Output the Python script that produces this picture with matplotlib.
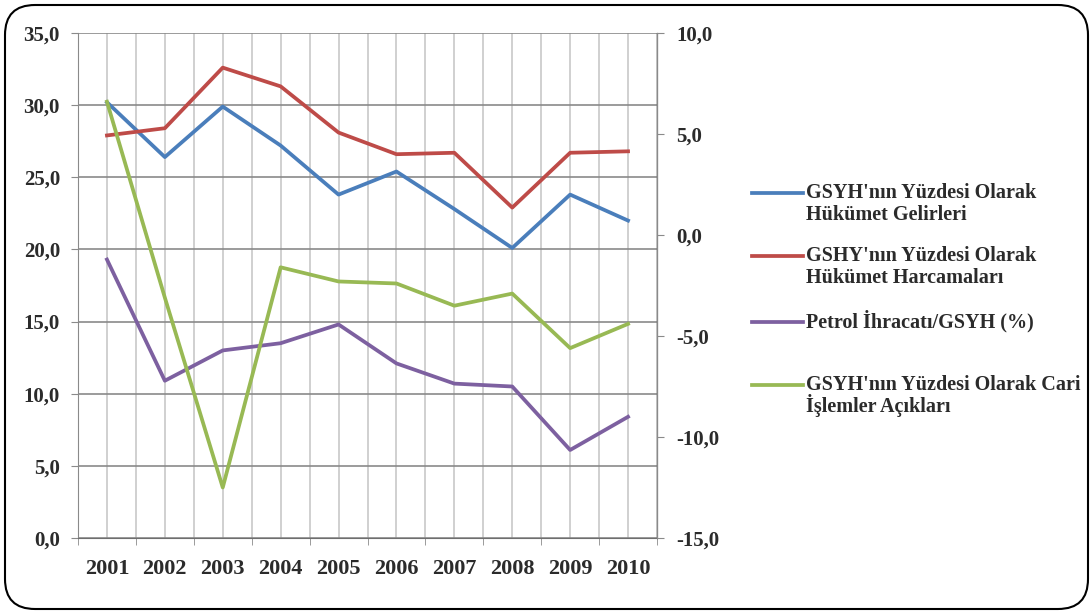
import matplotlib
matplotlib.use("Agg")
import matplotlib.pyplot as plt
from matplotlib.patches import FancyBboxPatch
from matplotlib.lines import Line2D
import matplotlib.ticker as ticker

years = ["2001", "2002", "2003", "2004", "2005", "2006", "2007", "2008", "2009", "2010"]
gelir = [30.2, 26.4, 29.9, 27.2, 23.8, 25.4, 22.8, 20.1, 23.8, 22.0]
harcama = [27.9, 28.4, 32.6, 31.3, 28.1, 26.6, 26.7, 22.9, 26.7, 26.8]
petrol = [19.3, 10.9, 13.0, 13.5, 14.8, 12.1, 10.7, 10.5, 6.1, 8.4]
cari = [6.6, -3.1, -12.5, -1.6, -2.3, -2.4, -3.5, -2.9, -5.6, -4.4]

labels = [
    ["GSYH'nın Yüzdesi Olarak", "Hükümet Gelirleri"],
    ["GSHY'nın Yüzdesi Olarak", "Hükümet Harcamaları"],
    ["Petrol İhracatı/GSYH (%)"],
    ["GSYH'nın Yüzdesi Olarak Cari", "İşlemler Açıkları"],
]
colors = ["#4a7ebb", "#be4b48", "#7d60a0", "#98b954"]

plt.rcParams['font.family'] = ['Liberation Serif', 'DejaVu Serif']

fig = plt.figure(figsize=(10.92, 6.13), dpi=100)

# frame with rounded corners, drawn in pixel coordinates
bg = fig.add_axes([0, 0, 1, 1], zorder=-1)
bg.set_xlim(0, 1092)
bg.set_ylim(613, 0)
bg.axis('off')
bg.add_patch(FancyBboxPatch((5, 5), 1083, 604, boxstyle="round,pad=0,rounding_size=30",
                            fc='white', ec='black', lw=1.5))

ax = fig.add_axes([78 / 1092, 1 - 538 / 613, (657 - 78) / 1092, (538 - 33) / 613])
ax.patch.set_alpha(0)
ax2 = ax.twinx()

x = list(range(len(years)))
lw = 2.7
ax.plot(x, gelir, color=colors[0], lw=lw, zorder=3)
ax.plot(x, harcama, color=colors[1], lw=lw, zorder=3)
ax.plot(x, petrol, color=colors[2], lw=lw, zorder=3)
ax2.plot(x, cari, color=colors[3], lw=lw, zorder=3)

ax.set_xlim(-0.5, len(years) - 0.5)
ax.set_ylim(0, 35)
ax2.set_ylim(-15, 10)

fmt = ticker.FuncFormatter(lambda v, p: f"{v:.1f}".replace(".", ","))
ax.yaxis.set_major_locator(ticker.MultipleLocator(5))
ax.yaxis.set_major_formatter(fmt)
ax2.yaxis.set_major_locator(ticker.MultipleLocator(5))
ax2.yaxis.set_major_formatter(fmt)

ax.set_xticks(x)
ax.set_xticklabels(years)
ax.set_xticks([i - 0.5 for i in range(len(years) + 1)], minor=True)

ax.grid(axis='y', color='#8a8a8a', lw=1.2)
ax.grid(axis='x', which='both', color='#c8c8c8', lw=1.2)
ax.set_axisbelow(True)

ax.spines['top'].set_visible(False)
ax2.spines['top'].set_visible(False)
ax.spines['left'].set_color('#8a8a8a')
ax.spines['bottom'].set_color('#6e6e6e')
ax2.spines['right'].set_color('#8a8a8a')
ax2.spines['left'].set_visible(False)
ax2.spines['bottom'].set_visible(False)

ax.tick_params(axis='x', which='major', length=0, pad=15)
ax.tick_params(axis='x', which='minor', length=5, color='#8a8a8a')
ax.tick_params(axis='y', length=5, color='#8a8a8a', pad=8)
ax2.tick_params(axis='y', length=5, color='#8a8a8a', pad=9)
for lab in ax.get_yticklabels() + ax2.get_yticklabels():
    lab.set_fontsize(15)
    lab.set_fontweight('bold')
    lab.set_color('#2b2b2b')
for lab in ax.get_xticklabels():
    lab.set_fontsize(16)
    lab.set_fontweight('bold')
    lab.set_color('#2b2b2b')

# legend drawn by hand so the line sits next to the first text line
leg_y = [193, 256, 322, 385]
for c, lines, yy in zip(colors, labels, leg_y):
    bg.add_line(Line2D([752, 803], [yy, yy], color=c, lw=2.7))
    for k, txt in enumerate(lines):
        bg.text(806, yy + 5 + 22 * k, txt, fontsize=14.5, fontweight='bold',
                color='#2b2b2b', va='baseline', ha='left')

fig.savefig("out.png", dpi=100)
